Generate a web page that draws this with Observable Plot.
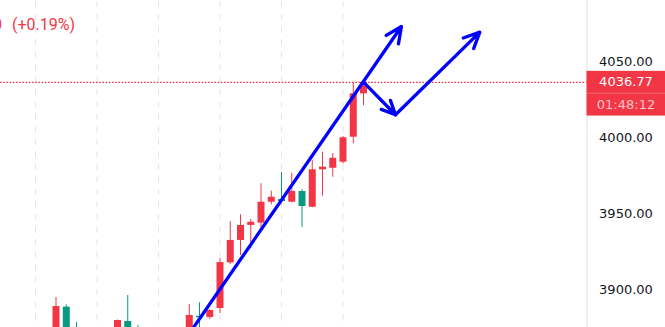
<!DOCTYPE html>
<html>
<head>
<meta charset="utf-8">
<script src="https://cdn.jsdelivr.net/npm/d3@7"></script>
<script src="https://cdn.jsdelivr.net/npm/@observablehq/plot@0.6"></script>
<style>
  html, body { margin: 0; padding: 0; background: #fff; overflow: hidden; }
  #chart { width: 665px; height: 327px; position: relative; }
</style>
</head>
<body>
<div id="chart"></div>
<script>
// ---- data ----
const barIndex = [2, 3, 4, 8, 9, 10, 15, 16, 17, 18, 19, 20, 21, 22, 23, 24, 25, 26, 27, 28, 29, 30, 31, 32];
const opens  = [3866, 3888.5, 3874, 3870, 3879.0, 3873, 3872, 3882.5, 3881.7, 3887.6, 3917.7, 3932.5, 3942.4, 3943.9, 3957.7, 3959.5, 3957.7, 3964.8, 3954.4, 3979.1, 3980.1, 3984.1, 4000.6, 4029.2];
const highs  = [3894.9, 3890.0, 3878.4, 3880, 3896.2, 3876.5, 3890.2, 3891.4, 3886.9, 3920.5, 3945.0, 3949.4, 3946.3, 3969.9, 3965.0, 3977.3, 3976.8, 3966.1, 3985.2, 3990.7, 3989.8, 4001.0, 4036.5, 4037.5];
const lows   = [3860, 3866, 3865, 3866, 3868, 3864, 3868, 3872, 3880.3, 3884.3, 3916.6, 3922.5, 3927.0, 3940.4, 3956.0, 3957.5, 3957.3, 3941.0, 3954.0, 3961.7, 3974.2, 3983.0, 3996.2, 4021.5];
const closes = [3888.9, 3870, 3868, 3879.7, 3872, 3868, 3883.0, 3881.5, 3886.3, 3917.9, 3932.5, 3942.4, 3944.5, 3957.7, 3961.0, 3958.2, 3964.8, 3954.9, 3979.1, 3980.8, 3986.7, 4000.2, 4029.2, 4036.77];

const gridIndex = [0, 6, 12, 18, 24, 30];
const yTicks = [3900, 3950, 4000, 4050];
const lastPrice = 4036.77;
const countdown = "01:48:12";
const changeText = "(+0.19%)";
const changeTail = "0";

// hand-drawn arrows (bar index, price)
const arrowX1 = [15, 32, 35.12];
const arrowY1 = [3871, 4036.9, 4015.4];
const arrowX2 = [35.7, 35.12, 43.35];
const arrowY2 = [4073.6, 4015.4, 4069.9];

// ---- build tables ----
const bars = barIndex.map((i, k) => ({
  i, open: opens[k], high: highs[k], low: lows[k], close: closes[k],
  up: closes[k] >= opens[k]
}));
const arrows = arrowX1.map((x, k) => ({x1: x, y1: arrowY1[k], x2: arrowX2[k], y2: arrowY2[k]}));

const UP = "#f23645", DOWN = "#089981";
const xDomain = [-35 / 10.25, (586.5 - 35) / 10.25];
const yDomain = [3875.07, 4090.77];

const plot = Plot.plot({
  width: 665,
  height: 327,
  marginLeft: 0,
  marginRight: 78.5,
  marginTop: 0,
  marginBottom: 0,
  style: {fontFamily: "DejaVu Sans", fontSize: "13px", background: "#fff", overflow: "hidden"},
  x: {domain: xDomain, axis: null},
  y: {domain: yDomain, axis: null},
  marks: [
    Plot.ruleX(gridIndex, {stroke: "#e0e3eb", strokeWidth: 1, strokeDasharray: "5.5,7", strokeDashoffset: -1.7}),
    Plot.ruleX([xDomain[1]], {stroke: "#e0e3eb", strokeWidth: 1}),
    Plot.ruleX(bars, {x: "i", y1: "low", y2: "high", stroke: d => d.up ? UP : DOWN, strokeWidth: 1, clip: true}),
    Plot.ruleX(bars, {x: "i", y1: "open", y2: "close", stroke: d => d.up ? UP : DOWN, strokeWidth: 7, clip: true}),
    Plot.ruleY([lastPrice], {stroke: UP, strokeWidth: 1.3, strokeDasharray: "1.6,1.6"}),
    Plot.arrow(arrows, {x1: "x1", y1: "y1", x2: "x2", y2: "y2", stroke: "#0000ff", strokeWidth: 3.3, headLength: 8, headAngle: 50, clip: true}),
    Plot.axisY({anchor: "right", ticks: yTicks, tickFormat: d => d.toFixed(2), tickSize: 0, tickPadding: 12.1, fill: "#131722", fontSize: 13}),
    Plot.text([changeText], {frameAnchor: "top-left", dx: 11.5, dy: 18, textAnchor: "start", fill: UP, fontFamily: "Roboto", fontSize: 16}),
    Plot.text([changeTail], {frameAnchor: "top-left", dx: 1.6, dy: 18, textAnchor: "end", fill: UP, fontFamily: "Roboto", fontSize: 16})
  ]
});

document.getElementById("chart").appendChild(plot);

// price label on the axis, positioned with the plot's own y scale
const ys = plot.scale("y");
const yp = ys.apply(lastPrice);
const svg = d3.select(plot);
const g = svg.append("g");
g.append("rect").attr("x", 586.5).attr("y", yp - 11).attr("width", 80).attr("height", 44.7).attr("fill", UP);
g.append("line").attr("x1", 586.5).attr("x2", 665).attr("y1", yp + 11.4).attr("y2", yp + 11.4).attr("stroke", "rgba(255,255,255,0.25)");
g.append("text").attr("x", 626).attr("y", yp).attr("dy", "0.35em").attr("text-anchor", "middle")
  .attr("fill", "#fff").attr("font-size", 13).text(lastPrice.toFixed(2));
g.append("text").attr("x", 626).attr("y", yp + 22.4).attr("dy", "0.35em").attr("text-anchor", "middle")
  .attr("fill", "rgba(255,255,255,0.72)").attr("font-size", 13).text(countdown);
</script>
</body>
</html>
